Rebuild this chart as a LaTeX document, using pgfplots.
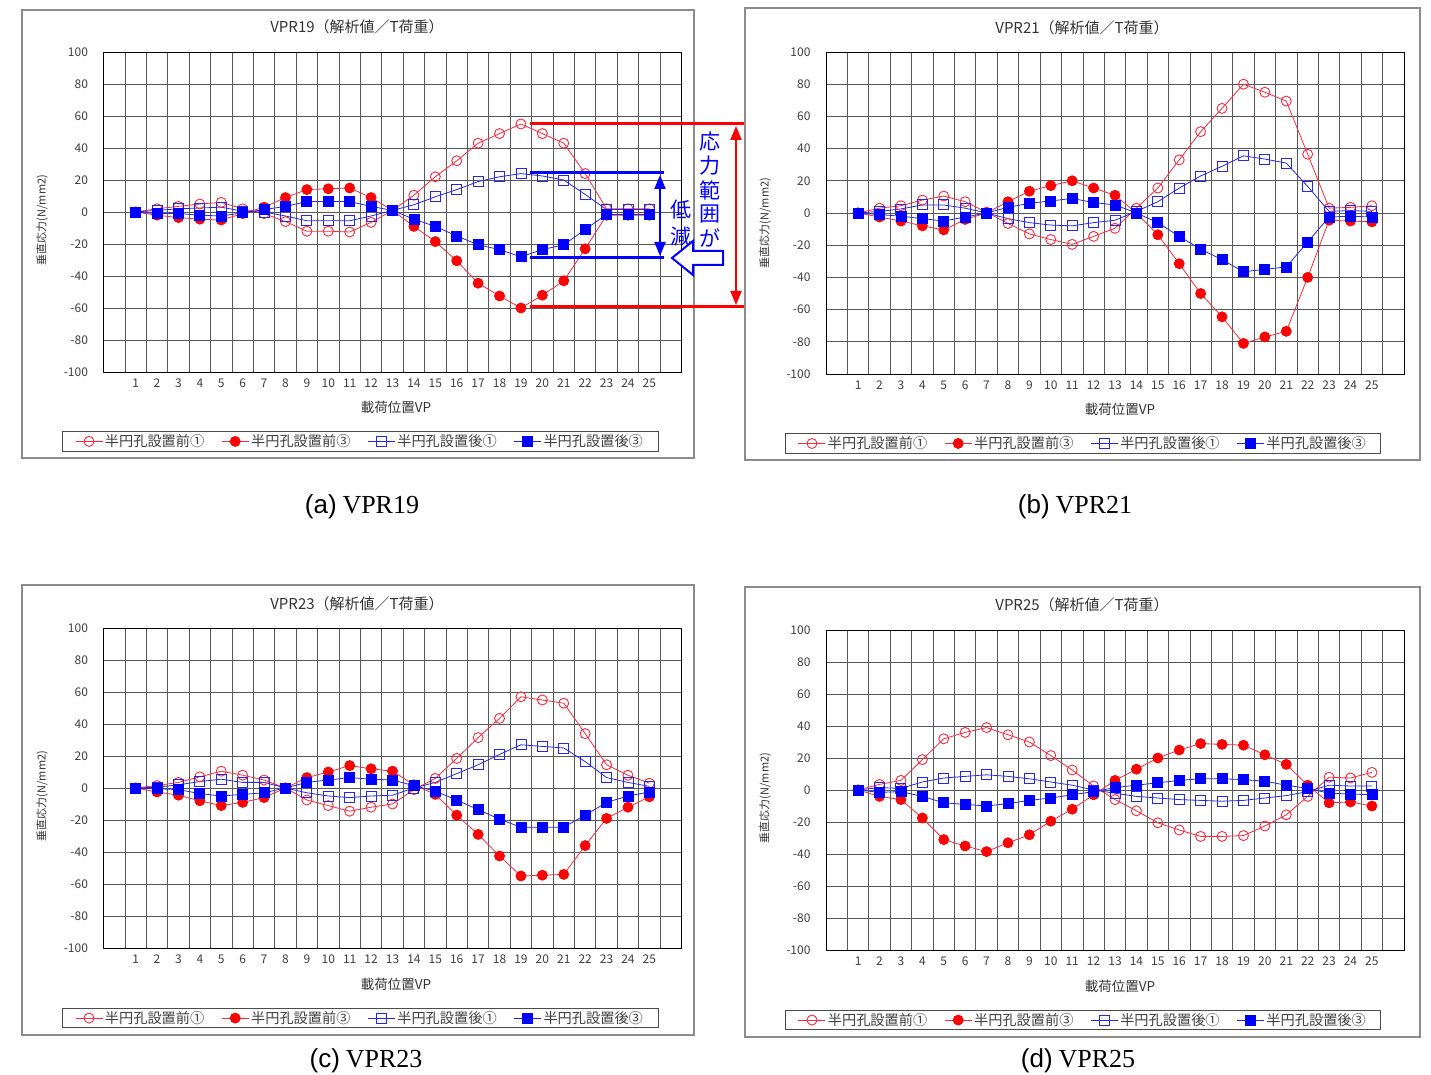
\documentclass[border=0pt]{standalone}
\usepackage{fontspec}
\setmainfont{Noto Sans CJK JP}
\newfontfamily\capsans{Liberation Sans}
\newfontfamily\capserif{Liberation Serif}
\usepackage{pgfplots}
\usepackage{pgfplotstable}
\pgfplotsset{compat=1.18}
\usetikzlibrary{arrows.meta}
\definecolor{rline}{RGB}{245,45,65}
\definecolor{rfill}{RGB}{255,0,0}
\definecolor{bline}{RGB}{40,40,225}
\definecolor{bfill}{RGB}{0,0,255}

\pgfplotstableread{
x A B C D
1 0 0 0 0
2 2 -2 1 -1
3 3.5 -3.5 2 -1
4 5 -4.5 2.5 -2
5 6 -5 3 -2.5
6 2 -1 0.5 -0.5
7 -1 3 0 1.5
8 -6 9 -2.5 3.5
9 -12 14 -5.5 6.5
10 -12 14.5 -5.5 6.5
11 -12.5 15 -5.5 6.5
12 -6.5 9 -2.5 3.5
13 1 1 1 1
14 10.5 -9 4.5 -4.5
15 22 -18.5 9.5 -9
16 32 -30.5 14 -15
17 43 -44.5 19 -20.5
18 49 -52.5 22 -23.5
19 55 -60 24 -28
20 49 -52 22.5 -23.5
21 43 -43 20 -20.5
22 24 -23 11 -11
23 2 -2 1.5 -1.5
24 2 -2 1.5 -1.5
25 2 -2 1.5 -1.5
}\dataA
\pgfplotstableread{
x A B C D
1 0 0 0 0
2 3 -2.5 1 -1
3 4.5 -5 2.5 -2
4 8 -8 5 -3.5
5 10.5 -10.5 5 -5
6 7 -4 3 -2.5
7 0.5 0 0 0
8 -6.5 7 -3.5 3.5
9 -13 13.5 -6 6
10 -16.5 17 -7.5 7.5
11 -19.5 20 -8 9
12 -14.5 15.5 -6 6.5
13 -9.5 11 -4.5 5
14 3 0 1 0
15 15.5 -13.5 7 -6
16 33 -31.5 15.5 -14.5
17 50.5 -50 23 -22.5
18 65 -64.5 29 -29
19 80 -81 35.5 -36.5
20 75 -77 33.5 -35
21 69.5 -73.5 31 -33.5
22 36.5 -40 16.5 -18
23 3 -4.5 1 -2.5
24 3.5 -5 1.5 -2
25 4.5 -5.5 1 -2.5
}\dataB
\pgfplotstableread{
x A B C D
1 0 0 0 0
2 1.5 -2.5 0.5 -0.5
3 3.5 -4.5 2 -1
4 7 -8 4 -3.5
5 10.5 -11 5.5 -5
6 8 -9 3.5 -4
7 5 -6 3.5 -3
8 0 0 0 0
9 -7.5 6.5 -3 3.5
10 -11 10 -5 5
11 -14.5 14 -6 6.5
12 -12 12 -5 5.5
13 -10 10.5 -4.5 5
14 -1 2 0 1.5
15 6 -4 3.5 -2
16 18.5 -17 9 -7.5
17 31.5 -29 14.5 -13.5
18 43.5 -42.5 21 -19.5
19 57 -55 27 -24.5
20 55 -54.5 26 -24.5
21 53 -54 25 -24.5
22 34 -36 16.5 -17
23 14.5 -19 6.5 -9
24 8 -12 3.5 -5
25 3 -5.5 1 -2.5
}\dataC
\pgfplotstableread{
x A B C D
1 0 0 0 0
2 3.5 -4 1.5 -1.5
3 6 -6 1 -1
4 19 -17.5 5 -4
5 32 -31 7.5 -8
6 36 -35 8.5 -9
7 39 -38.5 9.5 -10
8 34.5 -33 8.5 -8.5
9 30 -28 7 -6.5
10 21.5 -19.5 5 -5
11 12.5 -12 3 -3
12 2.5 -3 0 -1
13 -6 6 -2 1.5
14 -13 13 -4 3
15 -20.5 20 -5 4.5
16 -25 25 -6 6
17 -29 29 -6.5 7
18 -29 28.5 -7 7
19 -28.5 28 -6.5 6.5
20 -22.5 22 -5 5.5
21 -15.5 16 -3.5 3
22 -4 3 -1 1
23 8 -8 3 -2
24 7.5 -7.5 2.5 -2.5
25 11 -10 2.5 -3
}\dataD

\pgfplotsset{
  vpr/.style={
    scale only axis, width=578pt, height=320pt,
    xmin=-0.5, xmax=26.5, ymin=-100, ymax=100,
    xtick={1,...,25}, ytick={-100,-80,...,100},
    minor xtick={-0.5,0.5,...,26.5},
    xminorgrids=true, xmajorgrids=false, ymajorgrids=true,
    major tick length=0pt, minor tick length=0pt,
    grid style={black!65, line width=0.8pt},
    minor grid style={black!65, line width=0.8pt},
    axis line style={black, line width=0.9pt},
    tick label style={font=\fontsize{12}{12}\selectfont, text=black!75},
    /pgf/number format/assume math mode=true,
    xticklabel style={yshift=-3pt},
    yticklabel style={xshift=-12pt},
    legend columns=4,
    legend cell align=left,
    legend style={anchor=center, draw=black!70, line width=0.8pt,
      font=\fontsize{14.2}{14.5}\selectfont, text=black!75,
      inner xsep=13pt, inner ysep=1pt,
      /tikz/every even column/.append style={column sep=15pt}},
    legend image code/.code={\draw[mark repeat=2,mark phase=2,##1] plot coordinates {(0pt,0pt) (13.5pt,0pt) (27pt,0pt)};},
    every axis plot/.append style={line width=0.8pt, mark size=5pt},
  },
  sA/.style={color=rline, mark=o, mark options={solid, draw=rline, line width=0.9pt}},
  sB/.style={color=rline, mark=*, mark options={solid, draw=rfill, fill=rfill}},
  sC/.style={color=bline, mark=square, mark options={solid, draw=bline, line width=0.9pt}},
  sD/.style={color=bline, mark=square*, mark options={solid, draw=bfill, fill=bfill}},
}

\newcommand{\series}[1]{%
  \addplot[sA] table[x=x,y=A] {#1};
  \addlegendentry{半円孔設置前①}
  \addplot[sB] table[x=x,y=B] {#1};
  \addlegendentry{半円孔設置前③}
  \addplot[sC] table[x=x,y=C] {#1};
  \addlegendentry{半円孔設置後①}
  \addplot[sD] table[x=x,y=D] {#1};
  \addlegendentry{半円孔設置後③}
}

\begin{document}
\begin{tikzpicture}[x=1pt,y=1pt]
\useasboundingbox[fill=white] (0,0) rectangle (1431,1075);

% chart area frames
\draw[black!45, line width=1.2pt] (22,617) rectangle (694,1065);
\draw[black!45, line width=1.2pt] (745,615) rectangle (1420,1067);
\draw[black!45, line width=1.2pt] (22,40) rectangle (694,490);
\draw[black!45, line width=1.2pt] (745,38) rectangle (1420,488);

% (a)
\begin{axis}[vpr, at={(103.5pt,703pt)}, anchor=south west,
  legend style={at={(0.4438,-0.217)}}]
\series{\dataA}
\end{axis}
% (b)
\begin{axis}[vpr, at={(826pt,701pt)}, anchor=south west, height=322pt,
  legend style={at={(0.4446,-0.2158)}}]
\series{\dataB}
\end{axis}
% (c)
\begin{axis}[vpr, at={(103.5pt,127pt)}, anchor=south west,
  legend style={at={(0.4438,-0.219)}}]
\series{\dataC}
\end{axis}
% (d)
\begin{axis}[vpr, at={(826pt,125pt)}, anchor=south west,
  legend style={at={(0.4446,-0.219)}}]
\series{\dataD}
\end{axis}

% titles
\begin{scope}[every node/.style={inner sep=0pt, text=black!80}]
\node[font=\fontsize{15}{15}\selectfont] at (357,1048) {VPR19（解析値／T荷重）};
\node[font=\fontsize{15}{15}\selectfont] at (1082,1047) {VPR21（解析値／T荷重）};
\node[font=\fontsize{15}{15}\selectfont] at (357,471) {VPR23（解析値／T荷重）};
\node[font=\fontsize{15}{15}\selectfont] at (1082,470) {VPR25（解析値／T荷重）};
% y labels
\node[rotate=90, font=\fontsize{11}{11}\selectfont] at (42,855) {垂直応力(N/mm2)};
\node[rotate=90, font=\fontsize{11}{11}\selectfont] at (765,852) {垂直応力(N/mm2)};
\node[rotate=90, font=\fontsize{11}{11}\selectfont] at (42,279) {垂直応力(N/mm2)};
\node[rotate=90, font=\fontsize{11}{11}\selectfont] at (765,277) {垂直応力(N/mm2)};
% x labels
\node[font=\fontsize{13.5}{14}\selectfont] at (396,668) {載荷位置VP};
\node[font=\fontsize{13.5}{14}\selectfont] at (1120,666) {載荷位置VP};
\node[font=\fontsize{13.5}{14}\selectfont] at (396,91) {載荷位置VP};
\node[font=\fontsize{13.5}{14}\selectfont] at (1120,89) {載荷位置VP};
\end{scope}

% captions
\begin{scope}[every node/.style={inner sep=0pt, anchor=base, font=\fontsize{26}{26}\selectfont}]
\node at (362,561) {{\capsans (a)} {\capserif VPR19}};
\node at (1075,561) {{\capsans (b)} {\capserif VPR21}};
\node at (366,7) {{\capsans (c)} {\capserif VPR23}};
\node at (1078,7) {{\capsans (d)} {\capserif VPR25}};
\end{scope}

% annotation on (a)
\draw[rfill, line width=3pt] (530,951) -- (744,951);
\draw[rfill, line width=3pt] (530,768) -- (744,768);
\draw[rfill, line width=2pt, {Triangle[width=11pt,length=14pt]}-{Triangle[width=11pt,length=14pt]}] (736,949) -- (736,770);
\draw[bfill, line width=3pt] (530,902) -- (664,902);
\draw[bfill, line width=3pt] (530,817) -- (664,817);
\draw[bfill, line width=2pt, {Triangle[width=11pt,length=14pt]}-{Triangle[width=11pt,length=14pt]}] (660,900) -- (660,819);
\begin{scope}[every node/.style={inner sep=0pt, text=bfill, font=\fontsize{21}{21}\selectfont}]
\node at (681,865) {低};
\node at (681,838) {減};
\node at (710,933) {応};
\node at (710,909) {力};
\node at (710,885) {範};
\node at (710,861) {囲};
\node at (710,837) {が};
\end{scope}
\draw[bfill, line width=2pt, fill=white] (672,817) -- (693,834) -- (693,824) -- (723,824) -- (723,810) -- (693,810) -- (693,800) -- cycle;
\end{tikzpicture}
\end{document}
